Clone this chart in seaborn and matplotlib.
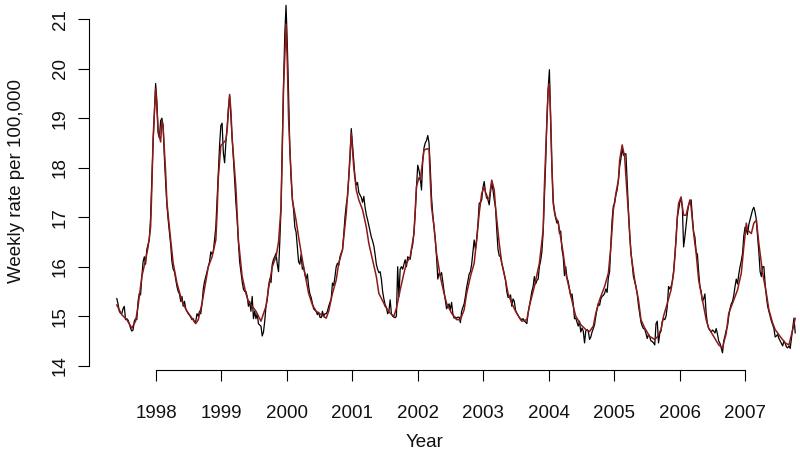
import numpy as np
import matplotlib
matplotlib.use("Agg")
import matplotlib.pyplot as plt
import seaborn as sns

# weekly series, first week ~ late May 1997
start_year = 1997.40
weeks_per_year = 52.18

weekly_rate = [
    15.36, 15.25, 15.1, 15.06, 15.05, 15.15, 15.2, 14.93, 14.95, 14.92,
    14.85, 14.76, 14.7, 14.72, 14.9, 14.95, 14.93, 15.3, 15.46, 15.43,
    15.8, 16.1, 16.2, 16.05, 16.35, 16.45, 16.55, 17.0, 17.8, 18.5,
    19.1, 19.7, 19.35, 18.7, 18.6, 18.95, 19.0, 18.85, 18.2, 17.7,
    17.25, 16.95, 16.7, 16.45, 16.1, 15.95, 15.9, 15.75, 15.6, 15.5,
    15.45, 15.3, 15.4, 15.2, 15.3, 15.15, 15.1, 15.05, 15.02, 14.98,
    14.93, 14.95, 14.88, 14.9, 15.05, 15.0, 15.1, 15.05, 15.25, 15.55,
    15.7, 15.8, 15.9, 16.0, 16.1, 16.3, 16.25, 16.3, 16.55, 16.8,
    17.35, 17.9, 18.45, 18.85, 18.9, 18.3, 18.1, 18.5, 18.8, 19.2,
    19.45, 19.05, 18.6, 18.2, 17.75, 17.3, 16.95, 16.5, 16.1, 15.9,
    15.7, 15.55, 15.5, 15.5, 15.4, 15.2, 15.3, 15.1, 15.4, 14.95,
    15.1, 14.95, 15.05, 14.85, 14.82, 14.8, 14.6, 14.68, 14.9, 15.2,
    15.33, 15.6, 15.75, 15.68, 16.05, 16.15, 16.2, 16.27, 16.05, 15.9,
    16.5, 17.2, 18.5, 19.7, 20.7, 21.28, 20.5, 19.5, 18.4, 17.8,
    17.4, 17.15, 16.8, 16.7, 16.4, 16.1, 16.05, 16.25, 15.95, 15.98,
    15.85, 15.75, 15.85, 15.6, 15.45, 15.38, 15.27, 15.15, 15.12, 15.1,
    15.03, 15.08, 14.98, 14.97, 15.1, 15.0, 15.05, 15.05, 15.1, 15.2,
    15.28, 15.35, 15.67, 15.62, 15.8, 16.0, 16.07, 16.02, 16.2, 16.28,
    16.34, 16.65, 17.0, 17.25, 17.41, 17.8, 18.2, 18.79, 18.45, 18.1,
    17.8, 17.65, 17.7, 17.5, 17.45, 17.4, 17.3, 17.42, 17.2, 17.05,
    16.95, 16.83, 16.72, 16.6, 16.52, 16.42, 16.25, 16.05, 15.95, 15.88,
    15.9, 15.75, 15.5, 15.35, 15.23, 15.18, 15.05, 15.1, 15.33, 15.05,
    15.0, 14.98, 14.97, 15.0, 16.0, 15.4, 15.95, 16.0, 15.95, 16.05,
    16.14, 16.0, 16.2, 16.18, 16.15, 16.34, 16.45, 16.7, 17.08, 17.6,
    18.05, 17.95, 17.8, 17.55, 18.15, 18.4, 18.5, 18.55, 18.65, 18.5,
    18.0, 17.4, 17.05, 16.8, 16.54, 16.2, 15.75, 15.87, 15.82, 15.88,
    15.7, 15.5, 15.33, 15.15, 15.2, 15.25, 15.13, 15.28, 15.05, 14.96,
    14.98, 14.96, 14.98, 14.98, 14.87, 15.1, 15.18, 15.25, 15.4, 15.58,
    15.72, 15.85, 15.9, 16.05, 16.3, 16.54, 16.35, 16.55, 16.85, 17.28,
    17.3, 17.35, 17.6, 17.72, 17.5, 17.45, 17.35, 17.25, 17.5, 17.7,
    17.55, 17.35, 17.2, 16.75, 16.35, 16.22, 16.2, 16.07, 15.97, 15.85,
    15.73, 15.5, 15.38, 15.38, 15.43, 15.2, 15.35, 15.3, 15.12, 15.06,
    15.02, 14.97, 14.95, 14.93, 14.95, 14.9, 14.88, 14.85, 15.06, 15.2,
    15.35, 15.5, 15.6, 15.8, 15.65, 15.72, 15.75, 16.0, 16.12, 16.3,
    16.7, 17.4, 18.1, 19.0, 19.6, 19.98, 18.9, 18.0, 17.35, 17.1,
    16.98, 16.88, 16.92, 16.67, 16.72, 16.35, 16.2, 15.82, 16.0, 15.78,
    15.7, 15.55, 15.4, 15.45, 15.25, 14.95, 14.96, 14.88, 14.8, 14.9,
    14.68, 14.76, 14.7, 14.46, 14.7, 14.73, 14.7, 14.53, 14.58, 14.68,
    14.75, 14.83, 15.0, 15.15, 15.26, 15.22, 15.35, 15.4, 15.42, 15.46,
    15.55, 15.48, 15.78, 15.9, 16.45, 16.95, 17.23, 17.28, 17.45, 17.55,
    17.75, 18.02, 18.18, 18.4, 18.25, 18.28, 18.28, 17.7, 17.15, 16.65,
    16.3, 16.05, 15.8, 15.7, 15.6, 15.45, 15.22, 15.05, 14.88, 14.8,
    14.75, 14.74, 14.65, 14.55, 14.63, 14.58, 14.5, 14.49, 14.46, 14.42,
    14.85, 14.9, 14.46, 14.65, 14.7, 14.9, 14.95, 14.93, 15.0, 15.2,
    15.6, 15.55, 15.6, 15.7, 15.9, 16.2, 16.6, 17.0, 17.15, 17.3,
    17.38, 17.2, 16.4, 16.6, 16.85, 17.08, 17.25, 17.3, 17.35, 17.0,
    16.7, 16.6, 16.3, 16.25, 15.9, 15.6, 15.5, 15.3, 15.35, 15.45,
    15.05, 14.85, 14.75, 14.72, 14.68, 14.72, 14.7, 14.66, 14.75, 14.64,
    14.5, 14.45, 14.36, 14.26, 14.5, 14.6, 14.72, 14.8, 15.0, 15.15,
    15.25, 15.3, 15.42, 15.6, 15.75, 15.65, 15.85, 16.0, 16.12, 16.27,
    16.62, 16.8, 16.75, 16.65, 16.85, 16.95, 17.05, 17.15, 17.2, 17.1,
    16.95, 16.6, 16.3, 15.9, 15.8, 16.0, 16.0, 15.65, 15.4, 15.2,
    15.1, 15.0, 14.9, 14.83, 14.75, 14.58, 14.6, 14.63, 14.55, 14.5,
    14.45, 14.4, 14.5, 14.45, 14.38, 14.36, 14.4, 14.35, 14.55, 14.75,
    14.96, 14.66,
]

# fitted curve, read at selected weeks
fit_week = [
    0, 4, 8, 12, 15, 17, 20, 23, 25, 27, 28, 29, 31, 32, 33, 35, 36, 37, 39, 40,
    43, 45, 48, 52, 56, 60, 63, 65, 68, 71, 73, 76, 79, 80, 81, 83, 85, 87, 88, 90,
    91, 92, 95, 97, 100, 103, 105,
    108, 111, 115, 119, 121, 124, 127, 129, 131, 132, 133, 135, 136, 137, 138, 140,
    143, 145, 148, 151, 153, 156, 159, 163, 167, 169, 172, 175, 177, 180, 183, 185,
    187, 189, 191, 193, 196, 199, 201, 204, 207, 209, 213,
    214, 218, 221, 223, 226, 229, 231, 234, 237, 239, 241, 242, 243, 245, 247, 249,
    250, 251, 253, 255, 258, 261, 263, 267, 271, 274, 277, 279, 282, 285, 287, 289,
    291, 293, 295, 297, 299, 301, 302, 305, 307, 310, 312, 315, 318, 322,
    323, 327, 329, 333, 337, 340, 341, 342, 344, 345, 346, 347, 348, 350, 352, 353,
    356, 358, 361, 364, 366, 370, 374, 377, 380, 382, 385, 389, 392, 394, 396, 398,
    400, 401, 403, 405, 406, 408, 410, 413, 416, 418, 421, 425, 429,
    431, 434, 436, 439, 442, 444, 446, 447, 448, 450, 451, 452, 454, 455, 457, 458,
    460, 462, 464, 467, 470, 472, 476, 480, 483, 486, 488, 491, 495, 498, 500, 502,
    503, 506, 508, 510, 512, 515, 518, 520, 523, 525, 529, 533, 536, 539, 541,
]
fit_rate = [
    15.23, 15.03, 14.93, 14.76, 14.9, 15.2, 15.8, 16.14, 16.4, 16.8, 17.6, 18.6,
    19.6, 19.2, 18.75, 18.52, 18.95, 18.8, 17.9, 17.3,
    16.54, 16.07, 15.67, 15.3, 15.1, 14.96, 14.85, 14.93, 15.26, 15.7, 16.0, 16.2,
    16.54, 17.08, 17.8, 18.45, 18.5, 18.56, 18.76, 19.48,
    19.16, 18.6, 17.6, 16.54, 15.8, 15.46, 15.3,
    15.2, 15.1, 14.9, 15.2, 15.55, 16.0, 16.2, 16.5, 17.2, 18.35, 19.6, 20.9,
    20.1, 19.0, 18.4, 17.35,
    16.94, 16.6, 16.14, 15.73, 15.46, 15.23, 15.1, 15.03, 14.96, 15.1, 15.46, 15.73,
    16.07, 16.34, 17.08, 17.8,
    18.7, 18.0, 17.55, 17.35, 17.15, 16.8, 16.47, 16.14, 15.8, 15.46, 15.26,
    15.2, 15.06, 15.0, 15.16, 15.53, 15.87, 16.07, 16.2, 16.67, 17.62, 17.8, 17.75,
    17.95, 18.35, 18.38, 18.38,
    17.75, 17.21, 16.81, 16.27, 15.8, 15.46, 15.26, 15.06, 14.93, 14.93, 15.13,
    15.46, 15.8, 16.07, 16.54, 17.08,
    17.48, 17.62, 17.38, 17.38, 17.75, 17.55, 17.21, 16.47, 16.07, 15.73, 15.46,
    15.26, 15.1, 14.93,
    14.9, 14.93, 15.2, 15.6, 16.07, 16.74, 17.62, 18.3, 19.57, 19.7, 19.03, 18.02,
    17.28, 17.0, 16.9, 16.74,
    16.27, 15.87, 15.53, 15.2, 15.0, 14.83, 14.73, 14.69, 14.8, 15.06, 15.33, 15.6,
    15.87, 16.4, 17.15, 17.48,
    17.75, 18.15, 18.46, 18.22, 17.82, 17.08, 16.27, 15.73, 15.33, 14.93, 14.76,
    14.59, 14.53,
    14.58, 14.73, 15.0, 15.26, 15.53, 15.87, 16.54, 17.0, 17.28, 17.41, 17.21,
    17.04, 17.04, 17.15, 17.35, 17.2,
    16.67, 16.27, 15.73, 15.33, 14.93, 14.76, 14.59, 14.42, 14.36, 14.66, 15.06,
    15.26, 15.53, 15.87, 16.4, 16.88,
    16.74, 16.67, 16.88, 16.94, 16.47, 15.87, 15.46, 15.13, 14.86, 14.73, 14.59,
    14.46, 14.42, 14.73, 14.96,
]

year_ticks = list(range(1998, 2008))
rate_ticks = list(range(14, 22))

years = start_year + np.arange(len(weekly_rate)) / weeks_per_year
fit_years = start_year + np.array(fit_week) / weeks_per_year

sns.set_theme(style="white")
plt.rcParams["font.family"] = ["Liberation Sans", "DejaVu Sans"]

fig = plt.figure(figsize=(8, 4.61), dpi=100)
ax = fig.add_axes([89 / 800, 91 / 461, 711 / 800, 370 / 461])

sns.lineplot(x=years, y=weekly_rate, color="black", linewidth=0.9,
             estimator=None, sort=False, ax=ax)
sns.lineplot(x=fit_years, y=fit_rate, color="#8b1a1a", linewidth=1.1,
             estimator=None, sort=False, ax=ax)

ax.set_xlim(1996.976, 2007.841)
ax.set_ylim(13.913, 21.388)

for side in ["top", "right"]:
    ax.spines[side].set_visible(False)
ax.spines["left"].set_bounds(14, 21)
ax.spines["bottom"].set_bounds(1998, 2007)
for side in ["left", "bottom"]:
    ax.spines[side].set_color("black")
    ax.spines[side].set_linewidth(0.8)

ax.set_xticks(year_ticks)
ax.set_xticklabels([str(y) for y in year_ticks])
ax.set_yticks(rate_ticks)
ax.set_yticklabels([str(r) for r in rate_ticks], rotation=90, va="center")
ax.tick_params(axis="both", length=8, width=0.8, color="black",
               labelsize=13.5, labelcolor="#111111")
ax.tick_params(axis="x", pad=17.5, bottom=True)
ax.tick_params(axis="y", pad=6.5, left=True)

ax.set_xlabel("Year", fontsize=13.5, color="#111111")
ax.set_ylabel("Weekly rate per 100,000", fontsize=13.5, color="#111111")
ax.xaxis.set_label_coords((425 - 89) / 711, (370 - 442) / 370)
ax.xaxis.label.set_va("center")
ax.yaxis.set_label_coords((17 - 89) / 711, (370 - 181) / 370)
ax.yaxis.label.set_va("center")

fig.savefig("out.png", dpi=100)
